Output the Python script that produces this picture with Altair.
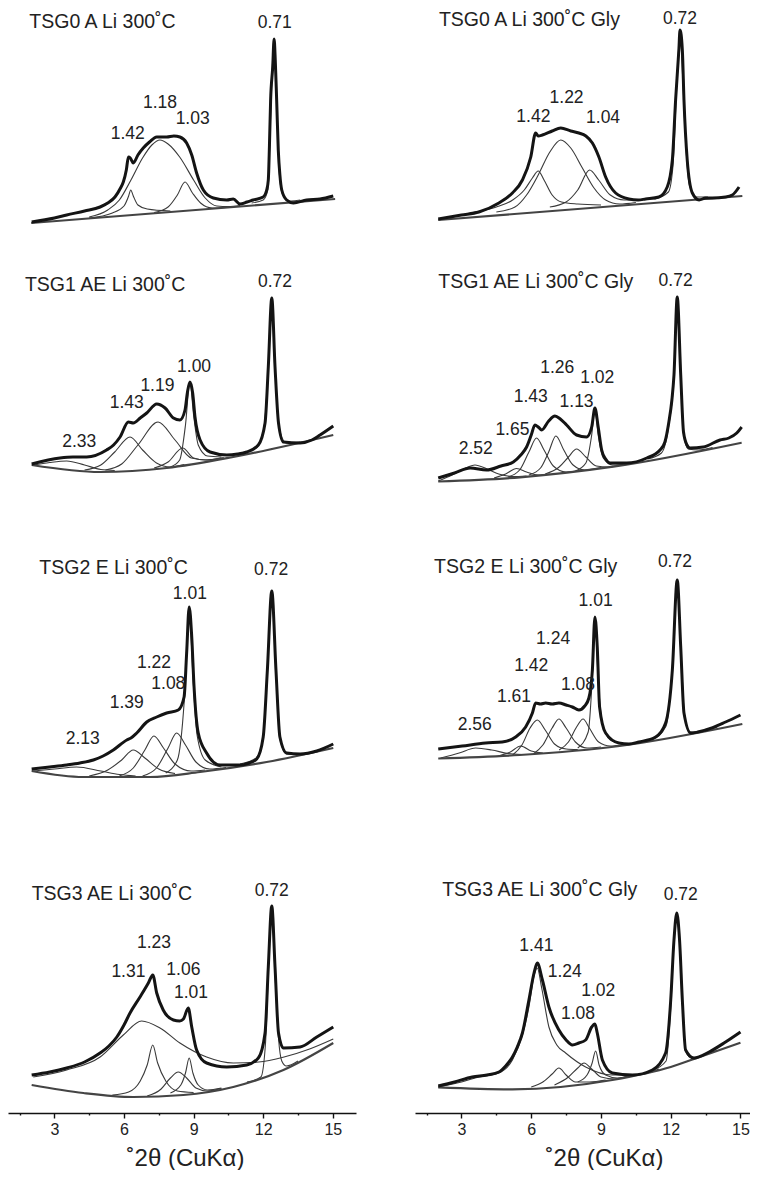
import altair as alt
import pandas as pd

FONT = "Liberation Sans"

# ---------------- panel titles ----------------
TITLES = ["TSG0 A Li 300˚C", "TSG0 A Li 300˚C Gly",
          "TSG1 AE Li 300˚C", "TSG1 AE Li 300˚C Gly",
          "TSG2 E Li 300˚C", "TSG2 E Li 300˚C Gly",
          "TSG3 AE Li 300˚C", "TSG3 AE Li 300˚C Gly"]
TITLE_AT = [(1.92, 218), (2.03, 220), (1.73, 215), (2.0, 218),
            (2.35, 222), (1.82, 223), (2.02, 219), (2.17, 223)]

# ---------------- panel 1 : TSG0 A Li 300˚C ----------------
P1_BASE = [(2.0, 17), (15.1, 41)]
P1_OBS = [(2.02, 18), (3.0, 22), (3.53, 25), (4.3, 29), (4.97, 33), (5.3, 37), (5.61, 43), (5.85, 52),
          (5.97, 58), (6.1, 70), (6.19, 83), (6.27, 82), (6.40, 77), (6.6, 85), (6.83, 92), (7.1, 98),
          (7.41, 103), (7.84, 103), (8.15, 104), (8.41, 103), (8.70, 97), (8.92, 85), (9.13, 67),
          (9.42, 50), (9.85, 42), (10.43, 40), (10.71, 41), (11.0, 36), (11.3, 38), (11.57, 40),
          (12.0, 43), (12.15, 50), (12.22, 60), (12.27, 95), (12.32, 140), (12.41, 173), (12.47, 201),
          (12.52, 180), (12.58, 140), (12.65, 90), (12.72, 65), (12.80, 50), (13.01, 40), (13.30, 37),
          (13.87, 40), (14.45, 41), (15.02, 44)]
P1_COMPS = [
    [(4.5, 22), (5.5, 27), (6.0, 34), (6.2, 44), (6.29, 50), (6.4, 44), (6.6, 35), (7.0, 31), (8.0, 29)],
    [(4.5, 23), (5.3, 30), (5.8, 40), (6.3, 60), (6.8, 82), (7.2, 95), (7.55, 100), (7.9, 96), (8.4, 83),
     (9.0, 60), (9.5, 42), (10.0, 34), (10.5, 33.5), (11.0, 34.5)],
    [(7.3, 27.5), (7.9, 33), (8.3, 45), (8.63, 58), (8.95, 47), (9.3, 37), (9.8, 32), (10.4, 32.5)],
    [(11.5, 37), (12.0, 40), (12.2, 50), (12.3, 110), (12.38, 165), (12.47, 198), (12.55, 160),
     (12.63, 100), (12.72, 60), (12.85, 45), (13.2, 39), (13.6, 40)],
]
P1_LABELS = [("1.42", 6.16, 106), ("1.18", 7.55, 137), ("1.03", 8.96, 121), ("0.71", 12.5, 217)]

# ---------------- panel 2 : TSG0 A Li 300˚C Gly ----------------
P2_BASE = [(2.0, 20), (15.08, 44)]
P2_OBS = [(2.0, 21), (3.0, 25), (3.75, 28), (4.61, 37), (5.19, 47), (5.62, 60), (5.98, 83), (6.19, 107),
          (6.3, 104), (6.48, 105), (6.9, 109), (7.27, 112), (7.7, 109), (8.05, 107), (8.35, 104),
          (8.63, 97), (8.91, 83), (9.20, 63), (9.63, 47), (10.20, 41), (10.6, 40), (10.92, 41),
          (11.49, 43), (11.85, 53), (12.07, 80), (12.21, 140), (12.35, 190), (12.40, 210), (12.50, 190),
          (12.57, 140), (12.71, 80), (12.93, 47), (13.22, 40), (13.5, 42), (13.79, 42), (14.36, 43),
          (14.65, 45), (14.94, 53)]
P2_COMPS = [
    [(2.3, 21.5), (3.5, 27.5), (4.5, 33), (5.2, 40), (5.7, 50), (6.05, 62), (6.30, 69), (6.55, 60),
     (6.9, 45), (7.3, 38), (8.0, 36), (9.0, 35)],
    [(4.5, 28), (5.3, 33), (5.8, 45), (6.3, 65), (6.8, 88), (7.27, 100), (7.7, 92), (8.2, 72), (8.7, 52),
     (9.2, 40), (9.8, 36), (10.5, 37.5)],
    [(6.8, 33), (7.5, 38), (8.0, 50), (8.51, 70), (8.9, 60), (9.4, 45), (10.0, 40), (10.8, 40)],
    [(11.3, 41), (11.9, 48), (12.1, 75), (12.25, 150), (12.40, 208), (12.52, 160), (12.65, 95),
     (12.8, 55), (13.1, 43), (13.6, 43)],
]
P2_LABELS = [("1.42", 6.09, 123), ("1.22", 7.52, 142), ("1.04", 9.09, 122), ("0.72", 12.40, 221)]

# ---------------- panel 3 : TSG1 AE Li 300˚C ----------------
P3_BASE = [(2.02, 35), (4.97, 28), (7.84, 32), (10.71, 43), (15.02, 65)]
P3_OBS = [(2.02, 36), (3.24, 42), (3.8, 43), (4.39, 43), (5.25, 50), (5.55, 55), (5.83, 63), (6.19, 78),
          (6.40, 77), (6.7, 82), (6.98, 87), (7.41, 96), (7.77, 92), (8.13, 82), (8.41, 80), (8.63, 90),
          (8.73, 107), (8.84, 118), (8.96, 107), (9.06, 83), (9.28, 60), (9.71, 48), (10.43, 45),
          (10.9, 46), (11.29, 48), (11.79, 55), (12.08, 77), (12.22, 133), (12.37, 202), (12.51, 133),
          (12.66, 77), (12.87, 58), (13.59, 57), (14.1, 60), (14.45, 65), (15.02, 74)]
P3_COMPS = [
    [(2.1, 35), (2.8, 37.5), (3.53, 39), (4.3, 35), (5.0, 30.5), (5.6, 29.5)],
    [(4.3, 30), (5.0, 35), (5.6, 48), (6.26, 63), (6.8, 50), (7.4, 37), (8.0, 33), (8.6, 35.5)],
    [(5.2, 30), (5.9, 36), (6.6, 55), (7.47, 78), (8.2, 60), (8.9, 42), (9.6, 40), (10.3, 42.5)],
    [(7.3, 32), (7.9, 38), (8.53, 52), (9.0, 42), (9.5, 40), (10.2, 42)],
    [(8.0, 33), (8.4, 40), (8.65, 75), (8.84, 118), (9.0, 85), (9.2, 55), (9.6, 44), (10.2, 43)],
    [(11.0, 47), (11.7, 52), (12.05, 75), (12.22, 133), (12.37, 200), (12.51, 133), (12.66, 75),
     (13.0, 57), (13.6, 58)],
]
P3_LABELS = [("2.33", 4.07, 58), ("1.43", 6.12, 97), ("1.19", 7.44, 114), ("1.00", 9.02, 133),
             ("0.72", 12.51, 218)]

# ---------------- panel 4 : TSG1 AE Li 300˚C Gly ----------------
P4_BASE = [(2.0, 18.5), (5.52, 22.7), (9.53, 33.3), (15.05, 57.3)]
P4_OBS = [(2.0, 22), (2.7, 27), (3.37, 32), (4.08, 30), (4.7, 34), (5.23, 38), (5.55, 45), (5.80, 53),
          (6.0, 65), (6.16, 75), (6.30, 73), (6.45, 70), (6.75, 79), (7.02, 84), (7.25, 81), (7.52, 75),
          (7.95, 65), (8.38, 63), (8.60, 73), (8.74, 92), (8.88, 73), (9.03, 50), (9.2, 41), (9.39, 37),
          (10.11, 37), (10.97, 42), (11.54, 50), (11.75, 58), (11.92, 78), (12.05, 100), (12.14, 125),
          (12.28, 203), (12.43, 125), (12.55, 68), (12.7, 55), (12.83, 52), (13.40, 53), (14.12, 60),
          (14.5, 62), (14.84, 67), (15.05, 73)]
P4_COMPS = [
    [(2.0, 19), (2.6, 25), (3.1, 31), (3.58, 35), (4.1, 31), (4.6, 26), (5.2, 23.5), (5.8, 24)],
    [(4.4, 22), (4.9, 26), (5.37, 31.5), (5.8, 28), (6.3, 25), (6.8, 26)],
    [(5.0, 23), (5.5, 30), (5.9, 48), (6.23, 62), (6.55, 50), (6.95, 34), (7.5, 28), (8.2, 30)],
    [(5.9, 25), (6.4, 32), (6.75, 48), (7.06, 64), (7.4, 50), (7.8, 35), (8.3, 30), (9.0, 32.5)],
    [(6.6, 26), (7.2, 33), (7.6, 43), (7.95, 51), (8.35, 43), (8.8, 34), (9.3, 33), (9.9, 35)],
    [(7.9, 29), (8.35, 37), (8.6, 65), (8.74, 91), (8.88, 65), (9.1, 42), (9.5, 35), (10.1, 36)],
    [(11.0, 41), (11.6, 47), (11.92, 75), (12.14, 123), (12.28, 201), (12.43, 123), (12.55, 66),
     (12.75, 51), (13.2, 50), (13.8, 52.5)],
]
P4_LABELS = [("2.52", 3.61, 51), ("1.65", 5.19, 70), ("1.43", 5.98, 103), ("1.13", 7.95, 98),
             ("1.26", 7.12, 132), ("1.02", 8.84, 122), ("0.72", 12.21, 219)]

# ---------------- panel 5 : TSG2 E Li 300˚C ----------------
P5_BASE = [(2.02, 19), (4.25, 13), (7.12, 13), (9.28, 18), (12.15, 28), (15.02, 42)]
P5_OBS = [(2.02, 21), (2.8, 23), (3.53, 25), (4.1, 27), (4.68, 30), (5.1, 34), (5.54, 40), (6.12, 50),
          (6.3, 52), (6.55, 57), (6.98, 68), (7.41, 73), (7.84, 77), (8.34, 80), (8.59, 93), (8.70, 137),
          (8.81, 183), (8.92, 153), (9.02, 103), (9.20, 57), (9.56, 37), (10.14, 25), (11.0, 25),
          (11.4, 27), (11.72, 31), (12.0, 53), (12.18, 120), (12.37, 199), (12.55, 120), (12.72, 53),
          (13.01, 37), (13.59, 36), (14.31, 39), (15.02, 46)]
P5_COMPS = [
    [(2.1, 19), (3.0, 21), (3.96, 23), (5.0, 19), (5.8, 15.5), (6.5, 14)],
    [(4.5, 14), (5.3, 20), (5.9, 30), (6.40, 40), (6.9, 32), (7.5, 21), (8.2, 16.5)],
    [(5.8, 14), (6.4, 22), (6.9, 40), (7.29, 54), (7.7, 42), (8.2, 26), (8.9, 19), (9.5, 20)],
    [(6.8, 14), (7.4, 22), (7.9, 42), (8.27, 57), (8.65, 45), (9.1, 28), (9.7, 21), (10.4, 22.5)],
    [(7.8, 17), (8.3, 30), (8.6, 90), (8.81, 180), (8.98, 110), (9.15, 55), (9.5, 30), (10.2, 23)],
    [(11.0, 26), (11.7, 32), (12.0, 53), (12.18, 118), (12.37, 198), (12.55, 118), (12.72, 52),
     (13.0, 36), (13.6, 35.5)],
]
P5_LABELS = [("2.13", 4.22, 51), ("1.39", 6.12, 87), ("1.08", 7.91, 106), ("1.22", 7.29, 127),
             ("1.01", 8.84, 196), ("0.72", 12.34, 220)]

# ---------------- panel 6 : TSG2 E Li 300˚C Gly ----------------
P6_BASE = [(2.0, 31.5), (5.5, 35), (9.8, 44), (15.08, 66)]
P6_OBS = [(2.0, 41), (3.03, 44), (4.04, 47), (4.75, 48), (5.33, 53), (5.76, 63), (6.05, 77), (6.19, 87),
          (6.4, 86), (6.62, 87), (6.9, 86), (7.19, 87), (7.5, 85), (7.77, 83), (8.05, 80), (8.3, 84),
          (8.48, 92), (8.63, 120), (8.74, 173), (8.84, 143), (8.94, 83), (9.20, 57), (9.77, 47),
          (10.2, 46), (10.63, 48), (11.35, 53), (11.78, 67), (12.07, 120), (12.28, 210), (12.43, 143),
          (12.57, 77), (12.86, 57), (13.50, 60), (14.36, 68), (15.0, 75)]
P6_COMPS = [
    [(2.1, 32), (2.9, 37), (3.61, 42), (4.3, 40), (5.0, 36.5), (5.6, 35.5)],
    [(4.6, 34), (5.1, 38), (5.55, 44), (6.0, 39), (6.5, 37)],
    [(5.2, 35), (5.6, 45), (5.95, 62), (6.26, 70), (6.6, 60), (7.0, 46), (7.5, 41), (8.0, 40.5)],
    [(6.1, 36.3), (6.5, 45), (6.9, 62), (7.19, 71), (7.5, 62), (7.9, 48), (8.4, 42), (9.0, 43)],
    [(7.2, 40), (7.6, 48), (7.95, 63), (8.23, 71), (8.5, 62), (8.9, 48), (9.4, 44), (10.0, 45.5)],
    [(8.0, 42), (8.45, 58), (8.62, 110), (8.74, 172), (8.88, 110), (9.05, 68), (9.4, 50), (10.0, 46)],
    [(11.2, 50), (11.8, 64), (12.05, 115), (12.28, 208), (12.45, 135), (12.6, 72), (12.85, 58),
     (13.4, 59.5), (14.0, 62.5)],
]
P6_LABELS = [("2.56", 3.57, 65), ("1.61", 5.26, 93), ("1.42", 6.0, 124), ("1.24", 6.94, 151),
             ("1.08", 8.01, 105), ("1.01", 8.77, 189), ("0.72", 12.18, 228)]

# ---------------- panel 7 : TSG3 AE Li 300˚C ----------------
P7_BASE = [(2.02, 28), (4.25, 20), (6.40, 16), (8.56, 18), (10.71, 26), (12.87, 43), (15.02, 70)]
P7_OBS = [(2.02, 38), (2.8, 41), (3.53, 45), (4.3, 51), (4.97, 60), (5.35, 67), (5.69, 76), (6.0, 88),
          (6.26, 100), (6.69, 116), (7.05, 130), (7.24, 138), (7.41, 120), (7.69, 103), (8.13, 93),
          (8.4, 92), (8.56, 94), (8.77, 105), (8.92, 86), (9.13, 63), (9.56, 50), (10.43, 46),
          (11.29, 48), (11.79, 55), (12.08, 80), (12.22, 146), (12.37, 207), (12.51, 146), (12.66, 80),
          (12.87, 65), (13.59, 66), (14.31, 76), (15.02, 86)]
P7_COMPS = [
    [(2.09, 36), (3.53, 43), (4.97, 56), (5.97, 78), (6.76, 92), (7.55, 85), (8.41, 70), (9.56, 56),
     (10.71, 50), (11.8, 51), (12.9, 56), (14.0, 64), (15.02, 74)],
    [(5.5, 18), (6.2, 21), (6.7, 32), (7.0, 48), (7.24, 68), (7.45, 50), (7.8, 32), (8.3, 22), (9.0, 20.5)],
    [(7.0, 17), (7.6, 24), (8.0, 35), (8.34, 41), (8.7, 35), (9.1, 25), (9.6, 22), (10.2, 24.5)],
    [(8.0, 20), (8.45, 28), (8.65, 40), (8.81, 55), (8.97, 40), (9.2, 28), (9.6, 23), (10.2, 25)],
    [(11.3, 31), (11.9, 36), (12.1, 70), (12.22, 140), (12.37, 205), (12.51, 140), (12.66, 75),
     (12.8, 52), (13.0, 47), (13.5, 52)],
]
P7_LABELS = [("1.31", 6.19, 141), ("1.23", 7.29, 170), ("1.06", 8.56, 143), ("1.01", 8.89, 120),
             ("0.72", 12.37, 222)]

# ---------------- panel 8 : TSG3 AE Li 300˚C Gly ----------------
P8_BASE = [(2.0, 25.7), (5.19, 23.7), (9.49, 33), (12.0, 46), (13.0, 54), (15.0, 70.3)]
P8_OBS = [(2.0, 27), (2.7, 31), (3.46, 36), (4.1, 38), (4.61, 41), (4.9, 47), (5.19, 56), (5.4, 66),
          (5.62, 80), (5.90, 113), (6.12, 140), (6.26, 150), (6.48, 133), (6.76, 106), (7.19, 83),
          (7.5, 73), (7.77, 68), (8.05, 70), (8.34, 73), (8.60, 86), (8.74, 89), (8.84, 80), (9.06, 53),
          (9.49, 40), (10.35, 38), (11.21, 43), (11.78, 60), (12.0, 113), (12.14, 173), (12.26, 200),
          (12.38, 173), (12.50, 113), (12.64, 63), (13.0, 55), (13.65, 61), (14.36, 71), (15.0, 81)]
P8_COMPS = [
    [(2.0, 26), (3.0, 31), (3.75, 36), (4.6, 40), (5.19, 53), (5.62, 78), (5.90, 106), (6.1, 135),
     (6.26, 145), (6.45, 125), (6.76, 86), (7.1, 68), (7.48, 60), (8.34, 46), (9.49, 38), (10.5, 38),
     (11.5, 44)],
    [(6.0, 26), (6.5, 31), (6.9, 39), (7.19, 45), (7.5, 38), (7.9, 31), (8.5, 31), (9.2, 33)],
    [(7.0, 28), (7.6, 36), (8.0, 45), (8.27, 50), (8.6, 44), (9.0, 36), (9.6, 34), (10.2, 37.2)],
    [(8.0, 31), (8.4, 38), (8.62, 50), (8.77, 62), (8.92, 48), (9.2, 38), (9.7, 35), (10.3, 38)],
    [(11.2, 42.5), (11.8, 52), (12.0, 105), (12.14, 170), (12.26, 197), (12.38, 170), (12.50, 110),
     (12.64, 62), (12.9, 55), (13.5, 58.5), (14.0, 62.5)],
]
P8_LABELS = [("1.41", 6.22, 167), ("1.24", 7.44, 141), ("1.02", 8.88, 122), ("1.08", 8.01, 99),
             ("0.72", 12.43, 218)]

TICK_VALUES = [1.5, 3, 4.5, 6, 7.5, 9, 10.5, 12, 13.5, 15]
X_TITLE = "˚2θ (CuKα)"

PANELS = [
    (P1_OBS, P1_BASE, P1_COMPS, P1_LABELS), (P2_OBS, P2_BASE, P2_COMPS, P2_LABELS),
    (P3_OBS, P3_BASE, P3_COMPS, P3_LABELS), (P4_OBS, P4_BASE, P4_COMPS, P4_LABELS),
    (P5_OBS, P5_BASE, P5_COMPS, P5_LABELS), (P6_OBS, P6_BASE, P6_COMPS, P6_LABELS),
    (P7_OBS, P7_BASE, P7_COMPS, P7_LABELS), (P8_OBS, P8_BASE, P8_COMPS, P8_LABELS),
]

ROW_H = [232, 260, 290, 323]
COL_W = [348, 335]
COL_DOM = [[1, 16], [1, 15.41]]
COL_TITLE_X = [177, 189]


def line_df(pts, key):
    return pd.DataFrame({"x": [p[0] for p in pts], "v": [p[1] for p in pts],
                         "k": key, "i": list(range(len(pts)))})


def make_panel(idx):
    obs, base, comps, labels = PANELS[idx]
    row, col = idx // 2, idx % 2
    h, w = ROW_H[row], COL_W[col]
    bottom = row == 3
    if bottom:
        axis = alt.Axis(
            values=TICK_VALUES, title=X_TITLE,
            labelExpr="datum.value % 3 === 0 ? datum.label : ''",
            tickSize={"condition": {"test": "datum.value % 3 === 0", "value": 5}, "value": 2},
            labelOverlap=False, labelFlush=False, grid=False,
            domainColor="#111", domainWidth=1.6, tickColor="#111", tickWidth=1.4,
            labelFont=FONT, labelFontSize=16, labelColor="#222", labelPadding=3,
            titleFont=FONT, titleFontSize=24, titleFontWeight="normal", titleColor="#222",
            titleX=COL_TITLE_X[col], titleY=45, titleBaseline="middle", titleAnchor="start",
            titleAlign="center")
    else:
        axis = None
    x = alt.X("x:Q", scale=alt.Scale(domain=COL_DOM[col], nice=False, zero=False), axis=axis)
    y = alt.Y("v:Q", scale=alt.Scale(domain=[0, h], nice=False, zero=False), axis=None)

    comp_df = pd.concat([line_df(c, f"c{k}") for k, c in enumerate(comps)], ignore_index=True)
    comp_layer = alt.Chart(comp_df).mark_line(
        color="#3a3a3a", strokeWidth=1.1, interpolate="monotone", clip=True
    ).encode(x=x, y=y, detail="k:N", order="i:Q")
    base_layer = alt.Chart(line_df(base, "base")).mark_line(
        color="#444444", strokeWidth=2.2, interpolate="monotone", clip=True
    ).encode(x=x, y=y, order="i:Q")
    obs_layer = alt.Chart(line_df(obs, "obs")).mark_line(
        color="#141414", strokeWidth=3, interpolate="monotone", strokeJoin="round", clip=True
    ).encode(x=x, y=y, order="i:Q")
    lab_df = pd.DataFrame({"t": [l[0] for l in labels], "x": [l[1] for l in labels],
                           "v": [l[2] for l in labels]})
    lab_layer = alt.Chart(lab_df).mark_text(
        font=FONT, fontSize=17.5, color="#222", align="center", baseline="middle"
    ).encode(x=x, y=y, text="t:N")
    tdf = pd.DataFrame({"t": [TITLES[idx]], "x": [TITLE_AT[idx][0]], "v": [TITLE_AT[idx][1]]})
    title_layer = alt.Chart(tdf).mark_text(
        font=FONT, fontSize=19.5, color="#222", align="left", baseline="middle"
    ).encode(x=x, y=y, text="t:N")
    return alt.layer(comp_layer, base_layer, obs_layer, lab_layer, title_layer).properties(
        width=w, height=h)


rows = []
for r in range(4):
    rows.append(alt.hconcat(make_panel(2 * r), make_panel(2 * r + 1), spacing=59, bounds="flush"))

chart = alt.vconcat(*rows, spacing=0).properties(
    padding={"left": 0, "top": 0, "right": 0, "bottom": 0}, background="white"
).configure_view(stroke=None)

chart.save("out.html", embed_options={"renderer": "svg", "actions": False})
